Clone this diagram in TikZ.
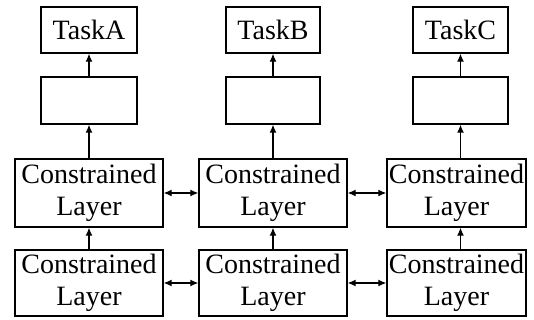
\documentclass[tikz,border=0pt]{standalone}
\usepackage{fontspec}
\setmainfont{Liberation Serif}
\usetikzlibrary{arrows.meta}
\begin{document}
\begin{tikzpicture}[x=1pt,y=-1pt,
  box/.style={draw, line width=1.4pt, inner sep=0pt, align=center,
    font=\fontsize{28}{32}\selectfont},
  arr/.style={line width=1.2pt, -{Latex[length=8pt,width=7pt]}},
  darr/.style={line width=1.2pt, {Latex[length=8pt,width=7pt]}-{Latex[length=8pt,width=7pt]}}]
\useasboundingbox (0,0) rectangle (534,320);
% top task boxes
\node[box, minimum width=96pt, minimum height=46pt] (ta) at (89,30) {TaskA};
\node[box, minimum width=94pt, minimum height=46pt] (tb) at (273,30) {TaskB};
\node[box, minimum width=95pt, minimum height=46pt] (tc) at (460.5,30) {TaskC};
% empty boxes
\node[box, minimum width=96pt, minimum height=47pt] (ma) at (89,100.5) {};
\node[box, minimum width=94pt, minimum height=47pt] (mb) at (273,100.5) {};
\node[box, minimum width=95pt, minimum height=47pt] (mc) at (460.5,100.5) {};
% constrained layers row 1
\node[box, minimum width=148pt, minimum height=68pt] (c1a) at (89,193) {Constrained\\Layer};
\node[box, minimum width=148pt, minimum height=68pt] (c1b) at (273,193) {Constrained\\Layer};
\node[box, minimum width=139pt, minimum height=68pt] (c1c) at (456.5,193) {Constrained\\Layer};
% constrained layers row 2
\node[box, minimum width=148pt, minimum height=66pt] (c2a) at (89,283) {Constrained\\Layer};
\node[box, minimum width=148pt, minimum height=66pt] (c2b) at (273,283) {Constrained\\Layer};
\node[box, minimum width=139pt, minimum height=66pt] (c2c) at (456.5,283) {Constrained\\Layer};
% vertical arrows
\draw[arr] (ma.north) -- (ta.south);
\draw[arr] (mb.north) -- (tb.south);
\draw[arr] (mc.north) -- (tc.south);
\draw[arr] (c1a.north -| ma.south) -- (ma.south);
\draw[arr] (c1b.north -| mb.south) -- (mb.south);
\draw[arr] (c1c.north -| mc.south) -- (mc.south);
\draw[arr] (c2a.north -| ma.south) -- (c1a.south -| ma.south);
\draw[arr] (c2b.north -| mb.south) -- (c1b.south -| mb.south);
\draw[arr] (c2c.north -| mc.south) -- (c1c.south -| mc.south);
% horizontal double arrows
\draw[darr] (c1a.east) -- (c1b.west);
\draw[darr] (c1b.east) -- (c1c.west);
\draw[darr] (c2a.east) -- (c2b.west);
\draw[darr] (c2b.east) -- (c2c.west);
\end{tikzpicture}
\end{document}
